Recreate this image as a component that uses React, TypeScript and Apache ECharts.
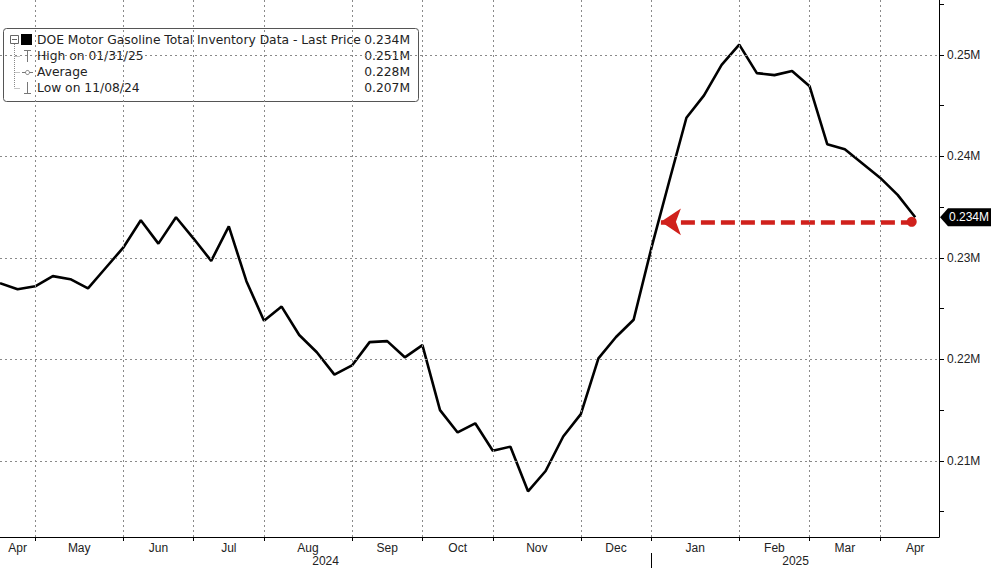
import React, { useEffect, useRef } from "react";
import * as echarts from "echarts";

// Weekly DOE motor gasoline total inventory (shown as "M"), 04/12/24 .. 04/11/25
const values = [
  0.2275, 0.2269, 0.2272, 0.2282, 0.2279, 0.227, 0.229, 0.231, 0.2337, 0.2314,
  0.234, 0.2319, 0.2297, 0.2331, 0.2277, 0.2238, 0.2252, 0.2224, 0.2207, 0.2185,
  0.2194, 0.2217, 0.2218, 0.2202, 0.2214, 0.215, 0.2128, 0.2137, 0.211, 0.2114,
  0.207, 0.209, 0.2124, 0.2146, 0.2201, 0.2222, 0.2239, 0.2309, 0.2374, 0.2438,
  0.246, 0.249, 0.251, 0.2482, 0.248, 0.2484, 0.2469, 0.2412, 0.2407, 0.2393,
  0.2379, 0.2362, 0.234,
];

const monthTicks = [2, 7, 11, 15, 20, 24, 28, 33, 37, 42, 46, 50];
const monthLabelPos = [1, 4.5, 9, 13, 17.5, 22, 26, 30.5, 35, 39.5, 44, 48, 52];
const monthLabels = ["Apr", "May", "Jun", "Jul", "Aug", "Sep", "Oct", "Nov", "Dec", "Jan", "Feb", "Mar", "Apr"];
const yearLabelPos = [18.5, 45.2];
const yearLabels = ["2024", "2025"];
const yearBreaks = [37];

const yMajor = [0.21, 0.22, 0.23, 0.24, 0.25];
const yTicks = [0.205, 0.21, 0.215, 0.22, 0.225, 0.23, 0.235, 0.24, 0.245, 0.25, 0.255];

const legendNames = ["DOE Motor Gasoline Total Inventory Data - Last Price", "High on 01/31/25", "Average", "Low on 11/08/24"];
const legendValues = ["0.234M", "0.251M", "0.228M", "0.207M"];

const arrowFrom = [51.8, 0.23355];
const arrowTo = [37.55, 0.23355];

const X_MIN = 0;
const X_MAX = 53.35;
const Y_MIN = 0.2025;
const Y_MAX = 0.2554;

const FONT = "Liberation Sans";
const LEGEND_FONT = "DejaVu Sans";

function pick(pos: number[], labels: string[], v: number) {
  const i = pos.findIndex((p) => Math.abs(p - v) < 1e-6);
  return i >= 0 ? labels[i] : "";
}

export default function App() {
  const ref = useRef<HTMLDivElement>(null);
  useEffect(() => {
    if (!ref.current) return;
    const chart = echarts.init(ref.current, null, { renderer: "svg" });
    const grid = { color: "#8a8a8a", width: 1, type: [2, 3] as any };
    const gridLines: any[] = [
      ...monthTicks.map((t) => ({ xAxis: t, lineStyle: grid })),
      ...yMajor.map((v) => ({ yAxis: v, lineStyle: grid })),
    ];

    const rowY = [40, 56, 72, 88];
    const legendEls: any[] = [
      {
        type: "rect",
        shape: { x: 3.5, y: 28.5, width: 415, height: 73, r: 3 },
        style: { fill: "#fff", stroke: "#555", lineWidth: 1 },
      },
      { type: "rect", shape: { x: 10.5, y: 35.5, width: 8, height: 8 }, style: { fill: "#fff", stroke: "#666", lineWidth: 1 } },
      { type: "line", shape: { x1: 12, y1: 39.5, x2: 17, y2: 39.5 }, style: { stroke: "#666", lineWidth: 1 } },
      { type: "rect", shape: { x: 21, y: 34, width: 11, height: 11 }, style: { fill: "#000" } },
      { type: "line", shape: { x1: 14.5, y1: 44, x2: 14.5, y2: 88 }, style: { stroke: "#888", lineWidth: 1, lineDash: [1, 1] } },
      ...[56, 72, 88].map((y) => ({
        type: "line",
        shape: { x1: 14.5, y1: y + 0.5, x2: 20, y2: y + 0.5 },
        style: { stroke: "#888", lineWidth: 1, lineDash: [1, 1] },
      })),
      { type: "line", shape: { x1: 24, y1: 50.5, x2: 31, y2: 50.5 }, style: { stroke: "#777", lineWidth: 1 } },
      { type: "line", shape: { x1: 27.5, y1: 50, x2: 27.5, y2: 62 }, style: { stroke: "#777", lineWidth: 1 } },
      { type: "line", shape: { x1: 22, y1: 72.5, x2: 33, y2: 72.5 }, style: { stroke: "#777", lineWidth: 1 } },
      { type: "circle", shape: { cx: 27.5, cy: 72.5, r: 2 }, style: { fill: "#fff", stroke: "#777", lineWidth: 1 } },
      { type: "line", shape: { x1: 27.5, y1: 82, x2: 27.5, y2: 94 }, style: { stroke: "#777", lineWidth: 1 } },
      { type: "line", shape: { x1: 24, y1: 93.5, x2: 31, y2: 93.5 }, style: { stroke: "#777", lineWidth: 1 } },
      ...legendNames.map((n, i) => ({
        type: "text",
        x: 37,
        y: rowY[i],
        style: { text: n, fill: "#222", font: `12.3px '${LEGEND_FONT}'`, textVerticalAlign: "middle" },
      })),
      ...legendValues.map((n, i) => ({
        type: "text",
        x: 410,
        y: rowY[i],
        style: { text: n, fill: "#222", font: `12.3px '${LEGEND_FONT}'`, textAlign: "right", textVerticalAlign: "middle" },
      })),
    ];

    chart.setOption({
      animation: false,
      backgroundColor: "#fff",
      textStyle: { fontFamily: FONT },
      grid: { left: 0, right: 52, top: 0, bottom: 31, containLabel: false },
      xAxis: [
        {
          type: "value",
          min: X_MIN,
          max: X_MAX,
          position: "bottom",
          axisLine: { show: true, onZero: false, lineStyle: { color: "#000", width: 1 } },
          axisTick: { show: true, customValues: monthTicks, length: 4, lineStyle: { color: "#000" } },
          axisLabel: {
            show: true,
            customValues: monthLabelPos,
            formatter: (v: number) => pick(monthLabelPos, monthLabels, v),
            color: "#222",
            fontSize: 12,
            fontFamily: FONT,
            margin: 5,
          },
          splitLine: { show: false },
        },
        {
          type: "value",
          min: X_MIN,
          max: X_MAX,
          position: "bottom",
          offset: 16,
          axisLine: { show: false, onZero: false },
          axisTick: { show: true, customValues: yearBreaks, length: 15, lineStyle: { color: "#000" } },
          axisLabel: {
            show: true,
            customValues: yearLabelPos,
            formatter: (v: number) => pick(yearLabelPos, yearLabels, v),
            color: "#222",
            fontSize: 12,
            fontFamily: FONT,
            margin: 2,
          },
          splitLine: { show: false },
        },
      ],
      yAxis: {
        type: "value",
        position: "right",
        min: Y_MIN,
        max: Y_MAX,
        axisLine: { show: true, onZero: false, lineStyle: { color: "#000", width: 1 } },
        axisTick: { show: true, customValues: yTicks, length: 5, lineStyle: { color: "#000" } },
        axisLabel: {
          show: true,
          customValues: yMajor,
          formatter: (v: number) => v.toFixed(2) + "M",
          color: "#222",
          fontSize: 12,
          fontFamily: FONT,
          margin: 8,
        },
        splitLine: { show: false },
      },
      series: [
        {
          type: "line",
          z: 1,
          data: values.map((v, i) => [i, v]),
          showSymbol: false,
          lineStyle: { opacity: 0 },
          silent: true,
          markLine: {
            silent: true,
            symbol: ["none", "none"],
            label: { show: false },
            data: gridLines,
          },
        },
        {
          type: "line",
          z: 3,
          data: values.map((v, i) => [i, v]),
          showSymbol: false,
          lineStyle: { color: "#000", width: 2.6 },
          markLine: {
            silent: true,
            z: 4,
            label: { show: false },
            data: [
              [
                {
                  coord: arrowTo,
                  symbol: "arrow",
                  symbolSize: 20,
                  lineStyle: { color: "#d0211c", width: 4.5, type: [14, 6] },
                },
                { coord: arrowFrom, symbol: "circle", symbolSize: 10 },
              ],
            ],
          },
        },
      ],
      graphic: legendEls,
    });

    const last = values[values.length - 1];
    const [px, py] = chart.convertToPixel({ seriesIndex: 1 }, [X_MAX, last]) as number[];
    chart.setOption({
      graphic: [
        ...legendEls,
        {
          type: "polygon",
          shape: {
            points: [
              [px + 1, py],
              [px + 9, py - 9],
              [991, py - 9],
              [991, py + 9],
              [px + 9, py + 9],
            ],
          },
          style: { fill: "#000" },
        },
        {
          type: "text",
          x: px + 10,
          y: py,
          style: { text: last.toFixed(3) + "M", fill: "#fff", font: `12px '${FONT}'`, textVerticalAlign: "middle" },
        },
      ],
    });

    return () => chart.dispose();
  }, []);
  return <div ref={ref} style={{ position: "fixed", left: 0, top: 0, width: 991, height: 568 }} />;
}
